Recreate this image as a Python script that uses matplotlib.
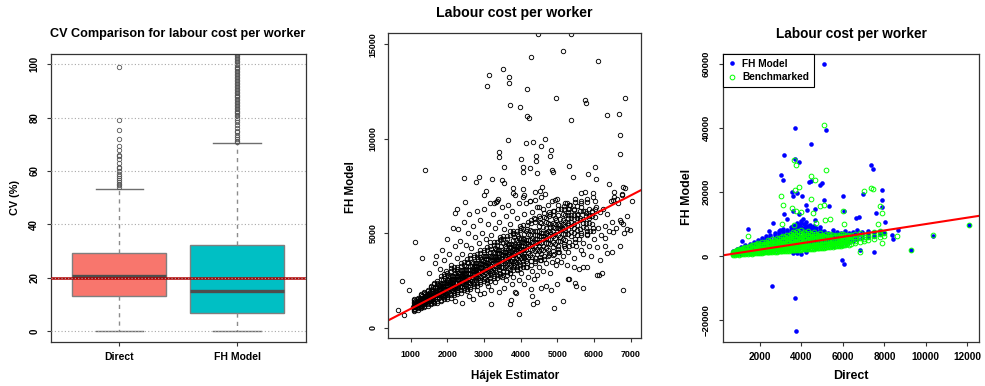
import numpy as np
import matplotlib
matplotlib.use("Agg")
import matplotlib.pyplot as plt

plt.rcParams['font.family'] = ['Liberation Sans', 'DejaVu Sans']
plt.rcParams['font.weight'] = 'bold'

# ---- panel 1: CV box plots (summaries) ----
box_names = ['Direct', 'FH Model']
box_q1 = [13.1, 6.6]
box_med = [20.7, 15.1]
box_q3 = [29.2, 32.1]
box_lo = [0.0, 0.0]
box_hi = [53.2, 70.4]
box_cols = ['#F8766D', '#00BFC4']
direct_out = [54.0, 54.6, 55.2, 55.9, 56.5, 57.3, 58.1, 59.0, 60.2, 61.1, 61.6,
              63.0, 64.4, 65.5, 66.1, 68.0, 69.3, 72.1, 75.5, 79.0, 99.1]
fh_out = [70.8, 71.3, 71.9, 72.6, 73.4, 74.5, 75.2, 76.0, 77.1, 78.4, 79.2, 79.9,
          80.5, 81.0, 81.6, 82.1, 82.7, 83.2, 83.8, 84.3, 84.9, 85.4, 86.0, 86.5,
          87.1, 87.6, 88.2, 88.7, 89.3, 89.8, 90.4, 90.9, 91.5, 92.0, 92.6, 93.1,
          93.7, 94.2, 94.8, 95.3, 95.9, 96.4, 97.0, 97.5, 98.1, 98.6, 99.2, 99.7,
          100.3, 100.8, 101.4, 101.9, 102.5, 103.0, 103.6, 104.1]
cv_target = 20

# ---- panel 2: Hajek estimator vs FH model ----
# dense band along the diagonal, one column of FH values per Hajek value
band_hajek = [1080, 1130, 1170, 1220, 1260, 1310, 1350, 1400, 1440, 1490, 1530, 1580,
              1620, 1670, 1710, 1760, 1800, 1850, 1890, 1940, 1980, 2030, 2070, 2120,
              2160, 2210, 2250, 2300, 2340, 2390, 2430, 2480, 2520, 2570, 2610, 2660,
              2700, 2750, 2790, 2840, 2880, 2930, 2970, 3020, 3060, 3110, 3150, 3200,
              3240, 3290, 3330, 3380, 3420, 3470, 3510, 3560, 3600, 3650, 3690, 3740,
              3780, 3830, 3870, 3920, 3960, 4010, 4050, 4100, 4150, 4200, 4260, 4320,
              4380, 4440, 4500, 4560, 4620, 4680, 4740, 4800, 4870, 4940, 5010, 5080,
              5150, 5220, 5300, 5380, 5460, 5540, 5620, 5700, 5780, 5860, 5940, 6020]
band_fh = [
    [1010, 1150, 1290, 1080, 1220, 1370], [1110, 1280, 1010, 1230, 1390, 1170],
    [1260, 1120, 1360, 1190, 1410, 1290], [1110, 1330, 1270, 1440, 1180, 1390],
    [1420, 1260, 1570, 1320, 1170, 1490], [1340, 1510, 1240, 1450, 1660, 1170],
    [1480, 1235, 1435, 1650, 1315, 1545], [1330, 1500, 1680, 1420, 1600, 1790],
    [1420, 1660, 1290, 1590, 1810, 1500], [1620, 1410, 1770, 1530, 1850, 1680],
    [1400, 1720, 1620, 1890, 1500, 1810], [1820, 1590, 2040, 1690, 1470, 1930],
    [1680, 1940, 1520, 1850, 2180, 1410], [1870, 1530, 1810, 2110, 1640, 1960],
    [1600, 1860, 2120, 1740, 2000, 2290], [1740, 2070, 1560, 1970, 2270, 1860],
    [1990, 1710, 2190, 1860, 2300, 2060], [1660, 2090, 1960, 2310, 1790, 2210],
    [2220, 1910, 2510, 2040, 1750, 2350], [2030, 2340, 1840, 2230, 2630, 1700],
    [2250, 1800, 2160, 2550, 1950, 2360], [1890, 2220, 2550, 2070, 2400, 2760],
    [2050, 2470, 1820, 2330, 2710, 2190], [2360, 2020, 2590, 2200, 2720, 2440],
    [1940, 2450, 2300, 2720, 2100, 2600], [2570, 2230, 2890, 2370, 2050, 2720],
    [2340, 2690, 2130, 2570, 3020, 1970], [2580, 2120, 2500, 2910, 2270, 2710],
    [2200, 2530, 2860, 2380, 2710, 3070], [2370, 2790, 2140, 2650, 3030, 2510],
    [2670, 2330, 2900, 2510, 3030, 2750], [2260, 2770, 2620, 3040, 2420, 2920],
    [2910, 2520, 3290, 2680, 2310, 3090], [2650, 3060, 2410, 2920, 3440, 2230],
    [2910, 2380, 2820, 3290, 2550, 3060], [2470, 2860, 3240, 2680, 3060, 3480],
    [2650, 3140, 2390, 2980, 3420, 2820], [3000, 2610, 3270, 2820, 3420, 3100],
    [2510, 3110, 2930, 3410, 2700, 3270], [3230, 2840, 3610, 3000, 2630, 3410],
    [2960, 3370, 2720, 3230, 3750, 2540], [3230, 2700, 3140, 3610, 2870, 3380],
    [2780, 3170, 3550, 2990, 3370, 3790], [2950, 3500, 2650, 3320, 3820, 3130],
    [3320, 2890, 3640, 3120, 3800, 3440], [2770, 3450, 3250, 3800, 2990, 3640],
    [3580, 3130, 4000, 3310, 2890, 3780], [3280, 3740, 3000, 3580, 4160, 2790],
    [3570, 2950, 3450, 3990, 3150, 3730], [3050, 3500, 3930, 3290, 3730, 4200],
    [3260, 3810, 2960, 3630, 4130, 3440], [3640, 3210, 3960, 3440, 4120, 3760],
    [3080, 3760, 3560, 4110, 3300, 3950], [3900, 3450, 4320, 3630, 3210, 4100],
    [3530, 4030, 3230, 3850, 4490, 3000], [3850, 3190, 3730, 4310, 3400, 4020],
    [3280, 3760, 4230, 3540, 4010, 4520], [3510, 4100, 3180, 3910, 4450, 3710],
    [3910, 3440, 4250, 3700, 4420, 4030], [3310, 4040, 3830, 4420, 3540, 4250],
    [4180, 3690, 4640, 3890, 3430, 4390], [3850, 4350, 3550, 4170, 4810, 3320],
    [4160, 3500, 4040, 4620, 3710, 4330], [3600, 4080, 4550, 3860, 4330, 4840],
    [3820, 4410, 3490, 4220, 4760, 4020], [4190, 3680, 4550, 3960, 4740, 4320],
    [3530, 4320, 4090, 4720, 3780, 4540], [4470, 3950, 4960, 4160, 3670, 4700],
    [4110, 4650, 3790, 4460, 5140, 3550], [4450, 3740, 4320, 4950, 3970, 4640],
    [3860, 4380, 4880, 4140, 4640, 5190], [4110, 4750, 3760, 4540, 5120, 4330],
    [4560, 4050, 4920, 4330, 5110, 4690], [3920, 4710, 4480, 5110, 4170, 4920],
    [4870, 4350, 5360, 4560, 4070, 5100], [4470, 5025, 4140, 4830, 5535, 3885],
    [4830, 4095, 4695, 5340, 4335, 5025], [4220, 4750, 5270, 4500, 5030, 5600],
    [4470, 5130, 4110, 4920, 5520, 4700], [4940, 4410, 5310, 4700, 5510, 5070],
    [4290, 5100, 4860, 5520, 4540, 5320], [5270, 4730, 5780, 4960, 4450, 5510],
    [4920, 5475, 4590, 5280, 5985, 4335], [5280, 4590, 5150, 5750, 4810, 5460],
    [4720, 5210, 5700, 4980, 5470, 6000], [4970, 5580, 4630, 5390, 5950, 5180],
    [5430, 4940, 5780, 5200, 5960, 5550], [4830, 5590, 5370, 5980, 5070, 5800],
    [5770, 5260, 6240, 5470, 5000, 5990], [5460, 5970, 5150, 5790, 6450, 4910],
    [5790, 5200, 5680, 6200], [5330, 5750, 6170, 5560], [5560, 6090, 5280, 5920],
    [5970, 5550, 6270, 5780], [5470, 6120, 5930], [6280, 5850, 6690],
]
# outer fringe of the band
fringe_hajek = [1100, 1190, 1280, 1370, 1460, 1550, 1640, 1730, 1820, 1910, 2000, 2090,
                2180, 2270, 2360, 2450, 2540, 2630, 2720, 2810, 2900, 2990, 3080, 3170,
                3260, 3350, 3440, 3530, 3620, 3710, 3800, 3890, 3980, 4070, 4170, 4280,
                4400, 4520, 4640, 4760, 4890, 5030, 5170, 5320, 5480, 5640, 5800, 5960]
fringe_fh = [
    [900, 1460, 940, 1510], [960, 1520, 1580, 1020], [1090, 1770, 1030, 1710],
    [1120, 1820, 1170, 1880], [1160, 1930, 2010, 1230], [1310, 2230, 1240, 2140],
    [1310, 2290, 1380, 2370], [1330, 2380, 2490, 1430], [1490, 2710, 1400, 2600],
    [1520, 2710, 1610, 2820], [1510, 2770, 2910, 1640], [1710, 3150, 1590, 3020],
    [1740, 3070, 1840, 3190], [1760, 3090, 3230, 1890], [1980, 3420, 1860, 3290],
    [2010, 3340, 2110, 3460], [1920, 3460, 3630, 2070], [2160, 3840, 2030, 3680],
    [2190, 3730, 2300, 3860], [2190, 3730, 3900, 2340], [2430, 4110, 2300, 3950],
    [2460, 4000, 2570, 4130], [2360, 4110, 4290, 2530], [2620, 4520, 2470, 4350],
    [2640, 4390, 2760, 4540], [2630, 4380, 4560, 2800], [2890, 4790, 2740, 4620],
    [2790, 4680, 2930, 4850], [2780, 4670, 4870, 2960], [3050, 5110, 2890, 4920],
    [3060, 4950, 3200, 5120], [3050, 4940, 5140, 3230], [3320, 5380, 3160, 5190],
    [3220, 5250, 3370, 5430], [3210, 5240, 5450, 3410], [3520, 5720, 3340, 5520],
    [3550, 5580, 3700, 5760], [3560, 5590, 5800, 3760], [3800, 6080, 3620, 5870],
    [3830, 5930, 3980, 6110], [3840, 5940, 6170, 4050], [4190, 6470, 4010, 6260],
    [4300, 6260, 4440, 6430], [4340, 6300, 6510, 4540], [4700, 6820, 4530, 6630],
    [4900, 6580, 5020, 6720], [4960, 6640, 6820, 5130], [5290, 7110, 5140, 6940],
]
# looser scatter around the band
halo_hajek = [1500, 1650, 1700, 1800, 1850, 1900, 1950, 2000, 2050, 2100, 2150, 2200,
              2250, 2300, 2350, 2400, 2450, 2500, 2550, 2600, 2650, 2700, 2750, 2800,
              2850, 2900, 2950, 3000, 3050, 3100, 3150, 3200, 3250, 3300, 3350, 3400,
              3450, 3500, 3550, 3600, 3650, 3700, 3750, 3800, 3850, 3900, 3950, 4000,
              4050, 4100, 4150, 4200, 4250, 4300, 4350, 4400, 4450, 4500, 4550, 4600,
              4650, 4700, 4750, 4800, 4850, 4900, 4950, 5000, 5100, 5200, 5300, 5350,
              5450, 5550, 5650, 5750, 5850, 5950, 6050, 6150, 6250, 6350, 6450, 6550,
              6650, 6750, 6850,
              2200, 2400, 2600, 2700, 2800, 2900, 3000, 3100, 3200, 3300, 3400, 3500,
              3550, 3600, 3700, 3750, 3800, 3900, 3950, 4000, 4100, 4150, 4200, 4300,
              4350, 4400, 4450, 4500, 4550, 4600, 4700, 4750, 4800, 4850, 4900, 4950,
              5000, 5050, 5100, 5150, 5200, 5250, 5300, 5400, 5450, 5500, 5600, 5650,
              5700, 5800, 5850, 5900, 6000, 6100, 6200, 6300, 6400, 6500, 6600, 6700,
              6800, 6900, 4700, 4550, 3850, 5300, 5800, 6150, 6300, 6500, 6900, 6700,
              5600, 5000, 4300]
halo_fh = [2900, 3400, 3800, 3100, 4100, 3600, 3000, 4700, 3900, 3300, 5300, 4300,
           3700, 5200, 4600, 3900, 5600, 4400, 5000, 6000, 4200, 5400, 4800, 6200,
           4500, 5700, 5000, 6300, 4700, 5500, 6600, 4900, 6000, 5300, 6700, 5600,
           4700, 6400, 5200, 5900, 6500, 5500, 6200, 5000, 7000, 5800, 6600, 5300,
           6900, 6000, 6600, 5600, 6700, 6100, 5800, 7200, 6400, 5900, 6900, 6300,
           7100, 5800, 6500, 6000, 6700, 6200, 5700, 6800, 6300, 6600, 6100, 6500,
           6300, 6000, 6400, 6200, 5900, 6200, 6400, 6100, 6300, 6000, 6700, 6900,
           6600, 7100, 7400,
           1400, 1300, 1700, 1500, 2000, 1800, 1850, 2200, 2000, 2400, 1900, 2700,
           2100, 2500, 2900, 2300, 2700, 3100, 2500, 2900, 2300, 3200, 2700, 3000,
           2600, 3400, 2800, 3200, 3600, 3000, 3400, 3800, 2900, 3500, 3900, 3300,
           3600, 4000, 3500, 3800, 4200, 3300, 4000, 4400, 3700, 4300, 4700, 4100,
           4500, 4900, 4300, 5100, 4700, 5300, 4900, 5400, 5100, 5600, 5300, 5700,
           5500, 5900, 2200, 2100, 1900, 2600, 3200, 3600, 4300, 4000, 5200, 4300,
           3100, 2300, 1700]
# isolated points away from the band
far_hajek = [4482, 5364, 5145, 6100, 4291, 3509, 3136, 3091, 3682, 3682, 4173, 4955,
             6855, 3709, 3973, 5764, 5773, 4164, 4218, 5373, 6355, 6682, 6718, 6718,
             4655, 3645, 4145, 4545, 4336, 4827, 4800, 3418, 3409, 4018, 4409, 4427,
             3545, 4055, 4255, 4073, 4436, 4855, 4873, 5318, 6027, 5827, 6045, 5427,
             2445, 1400, 2855, 2782, 3227, 3491, 3555, 3055, 2991, 2491, 2255, 2218,
             4582, 4518, 3782, 3782, 3382, 3327, 3264, 4073, 4091, 4382, 4500, 4264,
             4945, 5273, 5300, 5655, 5745, 6418, 6536, 6782, 6764, 6636, 7036, 6509,
             6727, 6527, 6827, 6982, 6309, 6345, 6082, 6073, 6145, 6209, 5918, 5709,
             5691, 5464, 5509, 5482, 5709, 5309, 5164, 4909, 4836, 6800, 3955, 4445,
             4336, 3718, 3200, 4282, 3727, 3873, 1118, 1300, 755, 955, 645, 818, 1073]
far_fh = [15529, 15565, 14647, 14135, 14329, 13693, 13358, 12776, 13270, 12970, 12617,
          12141, 12141, 11805, 11682, 12070, 11894, 11205, 11082, 11011, 11258, 11329,
          10199, 9194, 9970, 9935, 9758, 9635, 9846, 9405, 9106, 9282, 9017, 8946, 9088,
          8841, 8488, 8505, 8470, 8258, 8188, 8347, 8241, 8576, 8505, 8152, 7870, 7994,
          7905, 8364, 7994, 7711, 7888, 7800, 7676, 7235, 7005, 6670, 6282, 6088, 7464,
          7235, 7411, 7111, 6811, 6670, 6582, 7358, 7041, 6758, 6405, 6705, 6758, 6582,
          6264, 7129, 7182, 7605, 7164, 7464, 7023, 6829, 6688, 6758, 5611, 5082, 4994,
          5170, 4729, 3935, 4252, 2788, 2770, 2911, 3794, 3882, 3229, 3229, 2206, 2382,
          2100, 2594, 1412, 1023, 1994, 1994, 723, 1358, 1270, 1252, 1235, 2029, 1464,
          1817, 4517, 3670, 2488, 1976, 935, 670, 1111]

# ---- panel 3: Direct vs FH model and benchmarked ----
bench_cols_x = [700, 800, 900, 1000, 1100, 1200, 1300, 1400, 1500, 1600, 1700, 1800,
                1900, 2000, 2100, 2200, 2300, 2400, 2500, 2600, 2700, 2800, 2900, 3000,
                3100, 3200, 3300, 3400, 3500, 3600, 3700, 3800, 3900, 4000, 4100, 4200,
                4300, 4400, 4500, 4600, 4700, 4800, 4900, 5000, 5100, 5200, 5300, 5400,
                5500, 5600, 5700, 5800, 5900, 6000, 6100, 6200, 6300, 6400, 6600, 6800,
                7000, 7200, 7500, 7800, 8000]
bench_cols_y = [
    [450, 900, 1350, 700], [600, 1150, 1600, 380], [520, 980, 1450, 1800],
    [700, 1250, 1700, 450, 2050], [600, 1100, 1900, 1500, 2300],
    [850, 1400, 700, 2100, 1750, 2600], [650, 1200, 1650, 2400, 1000, 2850],
    [900, 1550, 2000, 700, 2700, 1300], [800, 1350, 1900, 2500, 1050, 3000],
    [1000, 1600, 2200, 750, 2800, 1300, 3300], [850, 1450, 2050, 2650, 1200, 3500],
    [1100, 1750, 2350, 900, 3000, 1450, 3700], [950, 1550, 2150, 2800, 1300, 3400, 4000],
    [1200, 1850, 2500, 1000, 3100, 1600, 3700], [1050, 1700, 2300, 3000, 1400, 3600, 4300],
    [1300, 1950, 2650, 1100, 3300, 1750, 3900], [1150, 1800, 2450, 3150, 1500, 3800, 4500],
    [1400, 2100, 2800, 1200, 3500, 1850, 4200, 4900],
    [1250, 1950, 2600, 3300, 1600, 4000, 4700],
    [1500, 2200, 2950, 1300, 3700, 2000, 4400, 5200],
    [1350, 2050, 2750, 3450, 1700, 4200, 4900],
    [1600, 2350, 3100, 1400, 3850, 2100, 4600, 5500],
    [1450, 2200, 2900, 3650, 1850, 4400, 5200],
    [1700, 2500, 3250, 1500, 4000, 2250, 4800, 5800],
    [1550, 2300, 3050, 3800, 1950, 4600, 5400, 6300],
    [1800, 2600, 3400, 1600, 4200, 2400, 5000, 6000],
    [1650, 2450, 3200, 4000, 2050, 4800, 5700, 6700],
    [1900, 2750, 3550, 1700, 4400, 2550, 5200, 6200],
    [1750, 2600, 3350, 4200, 2150, 5000, 5900, 7000],
    [2000, 2850, 3700, 1800, 4600, 2700, 5400, 6500, 7500],
    [1850, 2700, 3500, 4400, 2250, 5200, 6100, 7200],
    [2100, 2950, 3850, 1900, 4800, 2850, 5600, 6700, 7900],
    [1950, 2800, 3650, 4600, 2350, 5400, 6300, 7400],
    [2200, 3050, 4000, 2000, 5000, 3000, 5800, 6900, 8100],
    [2050, 2900, 3800, 4800, 2450, 5600, 6500, 7600],
    [2300, 3150, 4150, 2100, 5200, 3100, 6000, 7100],
    [2150, 3000, 3950, 5000, 2550, 5800, 6700, 7800],
    [2400, 3250, 4300, 2200, 5400, 3250, 6200, 7300],
    [2250, 3100, 4100, 5200, 2650, 6000, 6900],
    [2500, 3400, 4450, 2300, 5600, 3350, 6400, 7500],
    [2350, 3250, 4250, 5400, 2750, 6200, 7000],
    [2600, 3550, 4600, 2400, 5800, 3450, 6600],
    [2450, 3400, 4400, 5600, 2850, 6300, 7200],
    [2700, 3700, 4750, 2550, 5900, 3550, 6700],
    [2550, 3550, 4550, 5700, 2950, 6400],
    [2850, 3850, 4900, 2700, 6000, 3700, 6800],
    [2700, 3700, 4700, 5800, 3100, 6500],
    [3000, 4000, 5050, 2850, 6100, 3900, 6900],
    [2850, 3850, 4850, 5900, 3300, 6600],
    [3150, 4150, 5200, 3000, 6200, 4050],
    [3000, 4000, 5000, 6000, 3500, 6700],
    [3300, 4300, 5350, 3200, 6300, 4250],
    [3150, 4150, 5150, 6100, 3700, 6800],
    [3500, 4500, 5500, 3400, 6400, 4450, 7000],
    [3350, 4350, 5300, 6200, 3900], [3700, 4700, 5650, 6500, 4200],
    [3550, 4550, 5450, 6300], [3900, 4900, 5800, 6700],
    [4200, 5200, 6100, 7000, 4700], [4500, 5500, 6400, 7300],
    [4800, 5800, 6700, 5300], [5100, 6100, 7000], [5400, 6400, 7400],
    [5800, 6800, 7700], [6200, 7300],
]
bench_far_x = [5071, 3656, 3720, 5167, 4444, 4653, 3881, 3688, 3013, 7032, 7354, 7466,
               4444, 4910, 5087, 3109, 3527, 3752, 3977, 4572, 7788, 7868, 6003, 5119,
               5360, 6051, 4685, 3077, 3656, 7675, 1405, 7868, 8592, 10360, 12096, 6823,
               9267]
bench_far_y = [41010, 30157, 28592, 27027, 25044, 23792, 21705, 20661, 18887, 20453,
               21392, 21079, 17844, 15653, 16070, 16070, 14922, 13983, 13879, 13357,
               15757, 13357, 13983, 11270, 11687, 10017, 10435, 9913, 9704, 9913, 6157,
               3965, 6365, 6574, 9600, 1357, 1878]

fh_cols_x = [700, 900, 1100, 1300, 1500, 1700, 1900, 2100, 2300, 2500, 2700, 2900, 3100,
             3300, 3500, 3600, 3700, 3800, 3900, 4000, 4100, 4200, 4300, 4400, 4500,
             4600, 4700, 4900, 5100, 5300, 5500, 5700, 5900, 6100, 6300, 6500, 6700,
             6900, 7200, 7500, 7800, 8000]
fh_cols_y = [
    [900, 1600, 500], [1300, 2100, 700], [1100, 1900, 2700, 600], [1500, 2500, 3300, 900],
    [1300, 2300, 3100, 3900, 800], [1700, 2700, 3600, 4500, 1100],
    [1500, 2500, 3500, 4300, 5100, 1000], [1900, 2900, 3900, 4900, 5700, 1300],
    [1700, 2700, 3700, 4700, 5500, 6300, 1200], [2100, 3100, 4100, 5100, 5900, 6700, 1500],
    [1900, 2900, 3900, 4900, 5700, 6600, 7300], [2300, 3300, 4300, 5300, 6300, 7200, 7900],
    [2100, 3100, 4100, 5100, 6100, 7000, 7800, 8500],
    [2500, 3500, 4500, 5500, 6500, 7400, 8200],
    [2300, 3300, 4300, 5300, 6300, 7200, 8200, 9000],
    [1000, 3600, 5600, 6800, 8600, 9500],
    [2600, 3600, 4600, 5600, 6600, 7600, 8800, 9800],
    [800, 3000, 5000, 7000, 8000, 9200, 10300],
    [2400, 3400, 4400, 5400, 6400, 7400, 8400, 9600],
    [600, 3800, 5800, 7800, 9000, 10200, 11000],
    [2800, 3800, 4800, 5800, 6800, 7800, 8800, 9900],
    [1200, 4200, 6200, 8200, 9400, 10600],
    [2600, 3600, 4600, 5600, 6600, 7600, 8600, 9300],
    [3000, 5000, 7000, 8800, 9700], [3000, 4000, 5000, 6000, 7000, 8000, 9200],
    [2700, 4600, 6600, 8400, 9300], [2800, 3800, 4800, 5800, 6800, 7800, 8700],
    [3200, 4200, 5200, 6200, 7200, 8100, 9000], [3000, 4000, 5000, 6000, 7000, 7900],
    [3400, 4400, 5400, 6400, 7300], [3200, 4200, 5200, 6200, 7200, 8000],
    [3600, 4600, 5600, 6600, 7500], [3400, 4400, 5400, 6400, 7200],
    [4000, 5000, 6000, 7000, 7800], [4400, 5400, 6400, 7300], [4800, 5800, 6800, 7600],
    [5200, 6200, 7200, 8000], [5600, 6600, 7600], [6000, 7000, 7900], [6400, 7400],
    [6800, 7800], [7200],
]
fh_far_x = [5071, 3704, 5167, 4444, 3174, 3704, 3881, 2997, 3109, 7338, 7434, 4444,
            4990, 4878, 4347, 7868, 7868, 7868, 6984, 6019, 3543, 3800, 3608, 4042,
            5103, 4203, 5344, 3608, 3897, 4251, 4669, 6068, 7595, 6646, 8045, 6791,
            3158, 3286, 4090, 4669, 2611, 1421, 2981, 2450, 1116, 2595, 3704, 3720,
            5971, 6068, 6823, 7514, 8399, 8640, 9267, 10360, 12096, 8350]
fh_far_y = [60000, 40175, 39340, 35166, 31514, 30470, 29531, 25461, 23687, 28383,
            27131, 23478, 22852, 22122, 23270, 20766, 17427, 15340, 19410, 18783, 20035,
            19827, 18783, 18783, 17531, 16070, 15653, 14192, 13253, 14401, 14818, 14192,
            13357, 11791, 10748, 12313, 13253, 11478, 11478, 11270, 10435, 8348, 8139,
            7826, 4696, -9391, -13148, -23479, -1252, -2609, 1878, 1252, 5322, 8139,
            1878, 6261, 9809, 6470]


def flatten(xs, yss):
    fx, fy = [], []
    for x, ys in zip(xs, yss):
        fx += [x] * len(ys)
        fy += ys
    return fx, fy


W, H = 985, 386
fig = plt.figure(figsize=(W / 100, H / 100), dpi=100)


def rect(l, t, r, b):
    return [l / W, 1 - b / H, (r - l) / W, (b - t) / H]


def ftext(x, y, s, size, rot=0):
    fig.text(x / W, 1 - y / H, s, ha='center', va='center', fontsize=size,
             fontweight='bold', rotation=rot)


def style(ax, ypad, xpad, ysize, xsize):
    for sp in ax.spines.values():
        sp.set_color('#333333')
        sp.set_linewidth(0.9)
    ax.tick_params(direction='out', length=3.2, width=0.8, color='#333333')
    ax.tick_params(axis='y', pad=ypad, labelsize=ysize)
    ax.tick_params(axis='x', pad=xpad, labelsize=xsize)
    for lab in ax.get_yticklabels():
        lab.set_rotation(90)
        lab.set_va('center')


# ---- panel 1 ----
ax1 = fig.add_axes(rect(50.7, 54, 306, 341.7))
stats = []
for i in range(2):
    stats.append(dict(med=box_med[i], q1=box_q1[i], q3=box_q3[i], whislo=box_lo[i],
                      whishi=box_hi[i], fliers=[direct_out, fh_out][i]))
bp = ax1.bxp(stats, positions=[1, 2], widths=0.8, capwidths=0.4, patch_artist=True,
             manage_ticks=False,
             boxprops=dict(edgecolor='#7f7f7f', linewidth=1),
             whiskerprops=dict(color='#8c8c8c', linewidth=1, linestyle=(0, (3, 3))),
             capprops=dict(color='#6e6e6e', linewidth=1),
             medianprops=dict(color='#4d4d4d', linewidth=2.4),
             flierprops=dict(marker='o', markersize=3.2, markerfacecolor='none',
                             markeredgecolor='#555555', markeredgewidth=0.6))
for patch, c in zip(bp['boxes'], box_cols):
    patch.set_facecolor(c)
ax1.axhline(cv_target, color='#b00000', linewidth=1.8, zorder=3)
for v in range(0, 101, 20):
    ax1.axhline(v, color='#a8a8a8', linewidth=0.8, linestyle=(0, (1, 2)), zorder=4)
ax1.set_xlim(0.42, 2.585)
ax1.set_ylim(-4, 103.9)
ax1.set_xticks([1, 2], box_names)
ax1.set_yticks(range(0, 101, 20))
style(ax1, 5, 4.5, 7, 7.5)

# ---- panel 2 ----
ax2 = fig.add_axes(rect(388.3, 33.3, 640.7, 338.3))
bx, by = flatten(band_hajek, band_fh)
rx, ry = flatten(fringe_hajek, fringe_fh)
px = bx + rx + halo_hajek + far_hajek
py = by + ry + halo_fh + far_fh
ax2.plot(px, py, 'o', ms=3.2, mfc='none', mec='black', mew=0.65, linestyle='none')
ax2.axline((0, 0), slope=1, color='red', linewidth=1.5)
ax2.set_xlim(389, 7273)
ax2.set_ylim(-561, 15582)
ax2.set_xticks(range(1000, 7001, 1000))
ax2.set_yticks([0, 5000, 10000, 15000])
style(ax2, 4.5, 5, 6.4, 6.4)

# ---- panel 3 ----
ax3 = fig.add_axes(rect(723.3, 54, 979, 341.7))
fx, fy = flatten(fh_cols_x, fh_cols_y)
gx, gy = flatten(bench_cols_x, bench_cols_y)
ax3.plot(fx + fh_far_x, fy + fh_far_y, 'o', ms=3.3, color='#0000ff', mew=0,
         linestyle='none', label='FH Model')
ax3.plot(gx + bench_far_x, gy + bench_far_y, 'o', ms=3.4, mfc='none', mec='#00ff00',
         mew=0.7, linestyle='none', label='Benchmarked')
ax3.axline((0, 0), slope=1, color='red', linewidth=1.5)
ax3.set_xlim(230, 12564)
ax3.set_ylim(-26823, 63224)
ax3.set_xticks(range(2000, 12001, 2000))
ax3.set_yticks(range(-20000, 60001, 20000))
style(ax3, 6, 4, 6.8, 7.2)
leg = ax3.legend(loc='upper left', bbox_to_anchor=(0, 1), borderaxespad=0,
                 fancybox=False, edgecolor='black', framealpha=1, fontsize=7.3,
                 handlelength=0.8, handletextpad=0.6, borderpad=0.45,
                 labelspacing=0.35, markerscale=1.0)
leg.get_frame().set_linewidth(0.8)

# ---- titles and axis labels ----
ftext(178, 34, 'CV Comparison for labour cost per worker', 9.1)
ftext(15, 197.5, 'CV (%)', 7.8, 90)
ftext(514.5, 13.3, 'Labour cost per worker', 10.2)
ftext(514.7, 375.7, 'Hájek Estimator', 8.4)
ftext(350.7, 187.5, 'FH Model', 8.3, 90)
ftext(851, 34.3, 'Labour cost per worker', 9.8)
ftext(851, 376, 'Direct', 9)
ftext(686.7, 197.2, 'FH Model', 8.9, 90)

fig.savefig('out.png', dpi=100)
